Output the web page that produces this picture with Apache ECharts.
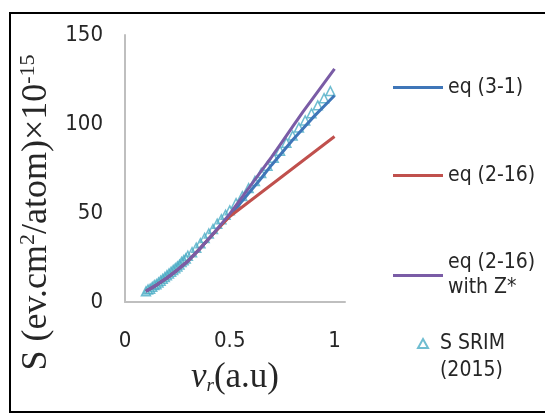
<!DOCTYPE html>
<html>
<head>
<meta charset="utf-8">
<script src="https://cdn.jsdelivr.net/npm/echarts@6/dist/echarts.min.js"></script>
<style>html,body{margin:0;padding:0;background:#fff;}#c{width:545px;height:419px;}</style>
</head>
<body>
<div id="c"></div>
<script>
// ---- data ----
var xLine = [0.1,0.15,0.2,0.25,0.3,0.35,0.4,0.45,0.5,0.55,0.6,0.65,0.7,0.75,0.8,0.85,0.9,0.95,1.0];
var eq31 = [6,9.5,13.5,18,23,29,35.5,42,48.5,55.5,62.5,69.5,77,84,91,97.5,104,110,116];
var eq216 = [6,9.5,13.5,18,23,29,35.5,42,48,52.5,57,61.5,66,70.5,75,79.5,84,88.5,93];
var eq216z = [6,9.5,13.5,18,23,29,35.5,42.5,49.5,57.5,65.5,73.5,81.5,90,98.5,107,115,123,131];
var srimX = [0.10,0.11,0.12,0.13,0.14,0.15,0.16,0.17,0.18,0.19,0.20,0.21,0.22,0.23,0.24,0.25,0.26,0.27,0.28,0.29,0.30,0.32,0.34,0.36,0.38,0.40,0.42,0.44,0.46,0.48,0.50,0.53,0.56,0.59,0.62,0.65,0.68,0.71,0.74,0.77,0.80,0.83,0.86,0.89,0.92,0.95,0.98];
var srimY = [6,7,7.5,8.5,9.5,10,11,12,13,14,15,16,17,18,19,20,21,22.5,23.5,24.5,26,28,30.5,33,36,38.5,41,44,46.5,49,51.5,55.5,59.5,64,68,72.5,76.5,81,85,89.5,93.5,98,102,106,110.5,114.5,118.5];
var xTicks = [0, 0.5, 1];
var yTicks = [0, 50, 100, 150];
var names = ['eq (3-1)', 'eq (2-16)', 'eq (2-16)\nwith Z*', 'S SRIM\n(2015)'];

function pairs(xs, ys){ return xs.map(function(x,i){ return [x, ys[i]]; }); }

var NARROW = "'Liberation Sans Narrow','DejaVu Sans Condensed','Roboto Condensed',sans-serif";
var TXT = '#262626';
var C_BLUE = '#3f76b8', C_RED = '#c0504d', C_PURPLE = '#7a5ca6', C_CYAN = '#4bacc6';

var chart = echarts.init(document.getElementById('c'));
var legendText = {fontFamily: NARROW, fontSize: 21, color: TXT, lineHeight: 25};
chart.setOption({
  backgroundColor: '#fff',
  animation: false,
  graphic: [{type:'rect', shape:{x:10, y:13, width:545, height:399}, style:{fill:'none', stroke:'#000', lineWidth:2}, z:-1}],
  grid: {left:125, right:200, top:35, bottom:117},
  xAxis: {
    type:'value', min:0, max:1.05, interval:0.5,
    name:'{v|v}{s|r}{n|(a.u)}', nameLocation:'middle', nameGap:58,
    nameTextStyle:{rich:{
      v:{fontFamily:"'Liberation Serif',serif", fontStyle:'italic', fontSize:35, color:TXT},
      s:{fontFamily:"'Liberation Serif',serif", fontStyle:'italic', fontSize:19, color:TXT, padding:[16,0,0,0]},
      n:{fontFamily:"'Liberation Serif',serif", fontSize:35, color:TXT}
    }},
    axisLine:{lineStyle:{color:'#bfbfbf', width:2}},
    axisTick:{show:false}, splitLine:{show:false},
    axisLabel:{showMaxLabel:false, margin:28, fontFamily:NARROW, fontSize:22, color:TXT,
      formatter:function(v){ return xTicks.indexOf(v) >= 0 ? String(v) : ''; }}
  },
  yAxis: {
    type:'value', min:0, max:150, interval:50,
    name:'{n|S (ev.cm}{p|2}{n|/atom)×10}{p|-15}', nameLocation:'middle', nameGap:68, nameRotate:90,
    nameTextStyle:{padding:[0,88,0,0], rich:{
      n:{fontFamily:"'Liberation Serif',serif", fontSize:36, color:TXT},
      p:{fontFamily:"'Liberation Serif',serif", fontSize:22, color:TXT, padding:[0,0,18,0]}
    }},
    axisLine:{show:true, lineStyle:{color:'#bfbfbf', width:2}},
    axisTick:{show:false}, splitLine:{show:false},
    axisLabel:{margin:22, fontFamily:NARROW, fontSize:22, color:TXT,
      formatter:function(v){ return yTicks.indexOf(v) >= 0 ? String(v) : ''; }}
  },
  legend: [
    {data:[names[0]], left:388, top:70, orient:'vertical', icon:'rect', itemWidth:50, itemHeight:3, textStyle:legendText},
    {data:[names[1]], left:388, top:158, orient:'vertical', icon:'rect', itemWidth:50, itemHeight:3, textStyle:legendText},
    {data:[names[2]], left:388, top:233, orient:'vertical', icon:'rect', itemWidth:50, itemHeight:3,
      textStyle:Object.assign({}, legendText, {padding:[25,0,0,0]})},
    {data:[names[3]], left:412, top:298, orient:'vertical', icon:'triangle', itemWidth:10, itemHeight:9,
      formatter:function(n){ return n.split('\n').map(function(s){ return '{t|' + s + '}'; }).join('\n'); },
      textStyle:Object.assign({}, legendText, {lineHeight:27, padding:[27,0,0,0],
        rich:{t:{fontFamily:NARROW, fontSize:21, color:TXT, lineHeight:27, padding:[0,0,0,7]}}})}
  ],
  series: [
    {name:names[0], type:'line', data:pairs(xLine, eq31), showSymbol:false, symbol:'none', lineStyle:{color:C_BLUE, width:3}, itemStyle:{color:C_BLUE}},
    {name:names[1], type:'line', data:pairs(xLine, eq216), showSymbol:false, symbol:'none', lineStyle:{color:C_RED, width:3}, itemStyle:{color:C_RED}},
    {name:names[2], type:'line', data:pairs(xLine, eq216z), showSymbol:false, symbol:'none', lineStyle:{color:C_PURPLE, width:3}, itemStyle:{color:C_PURPLE}},
    {name:names[3], type:'scatter', data:pairs(srimX, srimY), symbol:'triangle', symbolSize:9,
      itemStyle:{color:'rgba(255,255,255,0)', borderColor:C_CYAN, borderWidth:1.5}}
  ]
});
</script>
</body>
</html>
